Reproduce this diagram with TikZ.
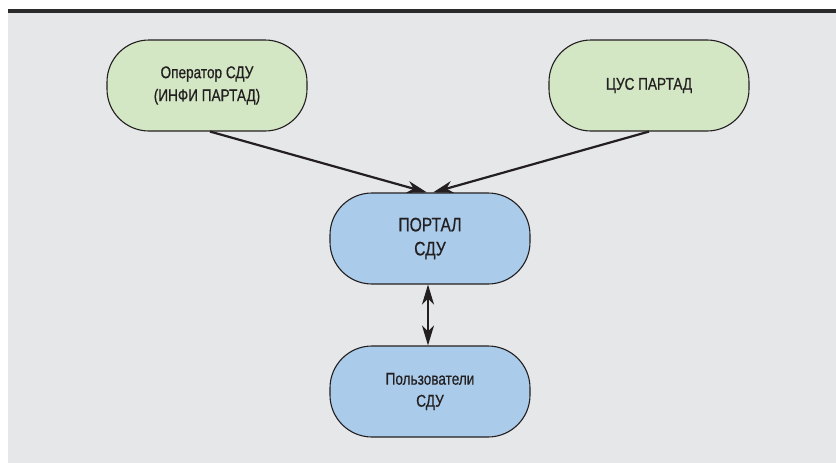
\documentclass[tikz,border=0pt]{standalone}
\usepackage{fontspec}
\setmainfont[FakeStretch=0.8,FakeBold=0.6]{Liberation Sans}
\usetikzlibrary{arrows.meta}

\definecolor{bggray}{HTML}{E6E7E9}
\definecolor{topbar}{HTML}{2B2B2B}
\definecolor{greenbox}{HTML}{D4E7C5}
\definecolor{bluebox}{HTML}{AACBEA}
\definecolor{inkgray}{HTML}{231F20}

\def\boxw{200pt}
\def\boxh{91pt}

\begin{document}
\begin{tikzpicture}[x=1pt,y=1pt]
			    \tikzstyle{block} = [draw=inkgray, line width=1.1pt, rounded corners=42pt, minimum width=\boxw, minimum height=\boxh, align=center, text=inkgray, inner sep=0pt]
			    \tikzstyle{source} = [block, fill=greenbox, font=\fontsize{17}{23}\selectfont]
			    \tikzstyle{portal} = [block, fill=bluebox, font=\fontsize{19.5}{24}\selectfont]
			    \tikzstyle{users} = [block, fill=bluebox, font=\fontsize{17}{22}\selectfont]
			    \tikzstyle{link} = [draw=inkgray, line width=2.2pt, -{Stealth[length=20pt,width=12pt,inset=6pt]}]

			    %%% BACKGROUND
			    \useasboundingbox (0,0) rectangle (836,-463);
			    \fill[bggray] (8,-13) rectangle (836,-463);
			    \fill[topbar] (8,-9) rectangle (836,-13);

			    %%% DRAW THE NODES
			    \node[source] (oper) at (207,-85.5) {Оператор СДУ\\(ИНФИ ПАРТАД)};
			    \node[source] (cus) at (649,-85.5) {ЦУС ПАРТАД};
			    \node[portal] (portal) at (430,-238.5) {ПОРТАЛ\\СДУ};
			    \node[users] (users) at (430,-391.5) {Пользователи\\СДУ};

			    %%% DRAW THE PATHS
			    \draw[link] ([xshift=3pt]oper.south) -- ([xshift=-3pt]portal.north);
			    \draw[link] (cus.south) -- ([xshift=3pt]portal.north);
			    \draw[link, {Stealth[length=20pt,width=12pt,inset=6pt]}-{Stealth[length=20pt,width=12pt,inset=6pt]}] ([xshift=-2pt]portal.south) -- ([xshift=-2pt]users.north);

			\end{tikzpicture}
\end{document}
